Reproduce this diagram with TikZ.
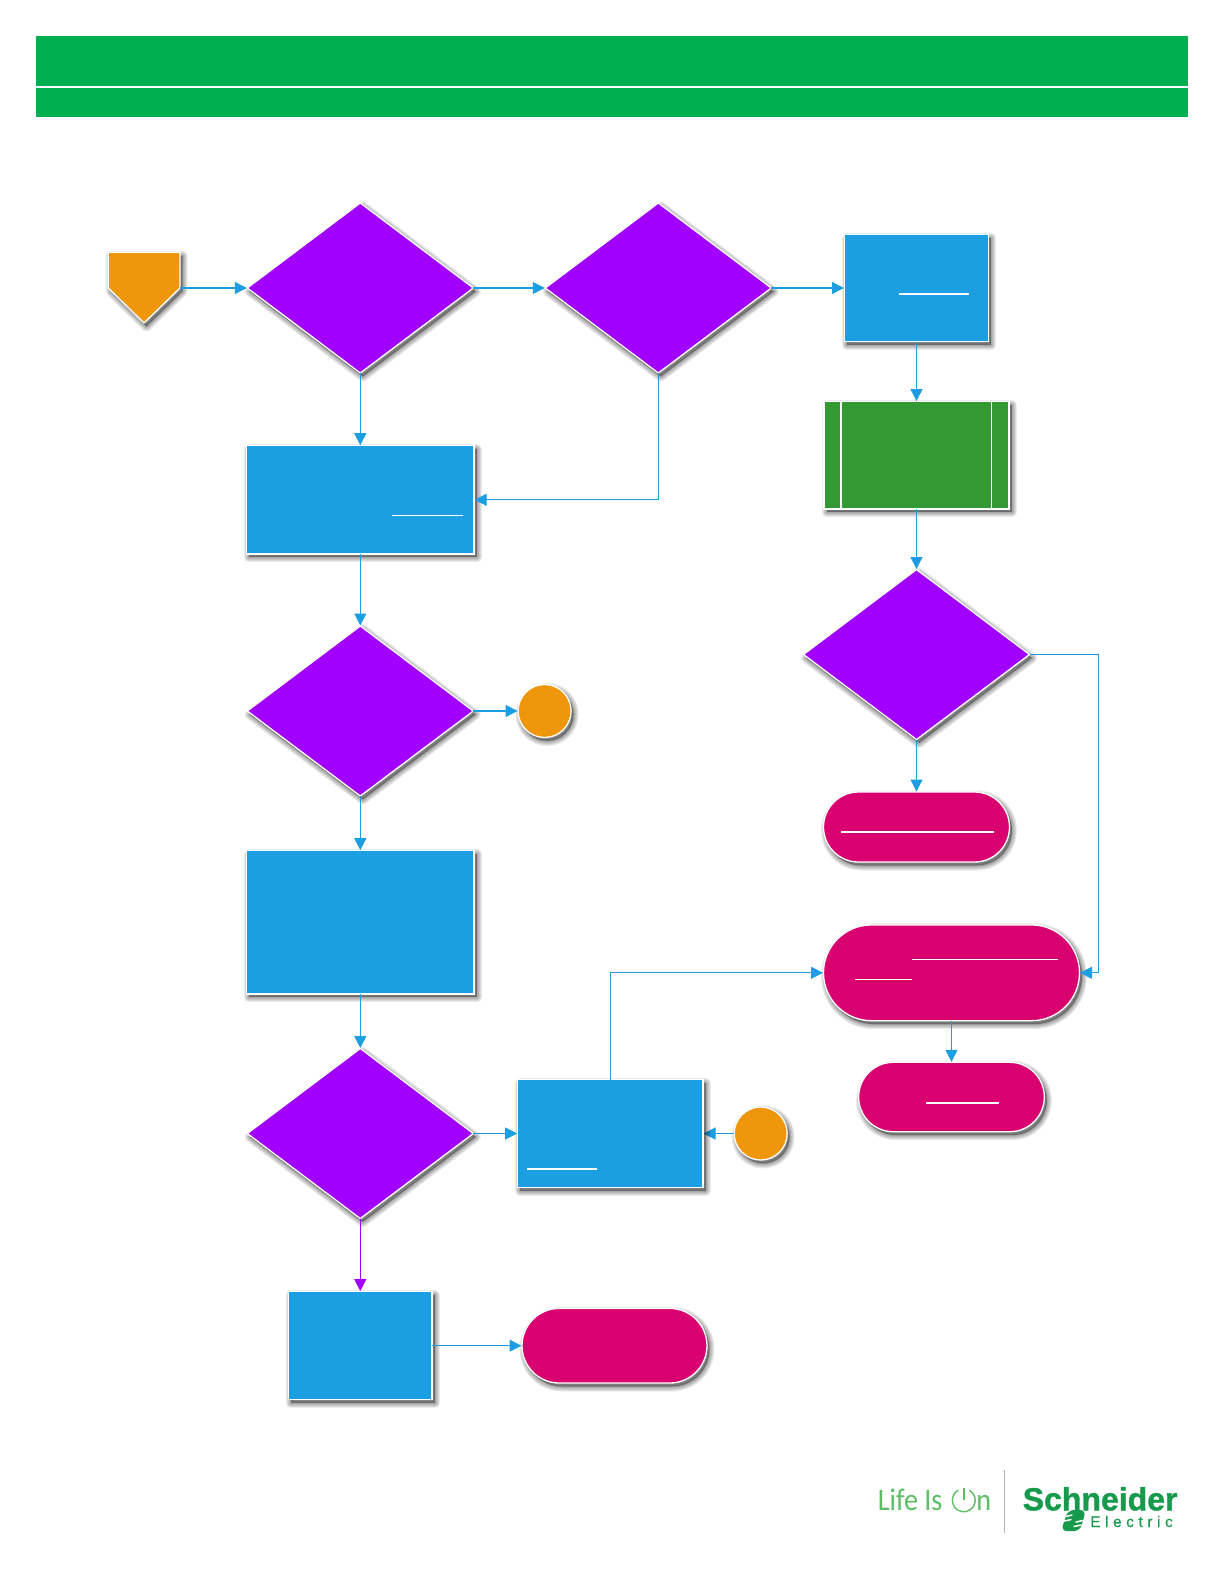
\documentclass[tikz,border=0pt]{standalone}
\usepackage{fontspec}
\usetikzlibrary{arrows.meta,shapes.geometric,shapes.misc,backgrounds}
\setmainfont{Liberation Sans}
\newfontfamily\lifefont[FakeStretch=0.9]{Carlito}
\newfontfamily\schfont[UprightFont=* Bold,FakeBold=1.2]{Liberation Sans}
\newfontfamily\elecfont[LetterSpace=30,FakeBold=0.5]{Liberation Sans}
\definecolor{hgreen}{HTML}{00B050}
\definecolor{bluec}{HTML}{1B9FE2}
\definecolor{purp}{HTML}{A100FF}
\definecolor{orng}{HTML}{F0960A}
\definecolor{pinkc}{HTML}{D90070}
\definecolor{gbox}{HTML}{339933}
\definecolor{seg}{HTML}{179A4C}
\definecolor{lifeg}{HTML}{5DBE65}
\def\px{0.75pt}
\tikzset{
  shlayer/.style={preaction={draw=black,fill=black,line width=#1*\px,line join=round,opacity=.08,
     transform canvas={xshift=2.5*\px,yshift=-3.5*\px}}},
  softsh/.style={shlayer=10,shlayer=8,shlayer=6,shlayer=4,shlayer=2},
  base/.style={draw=white,line width=1.3*\px,inner sep=0pt,outer sep=0pt,softsh},
  dia/.style={base,diamond,fill=purp,minimum width=226*\px,minimum height=170*\px},
  proc/.style={base,rectangle,fill=bluec},
  term/.style={base,rounded rectangle,fill=pinkc},
  conn/.style={draw=bluec,line width=1.2*\px,-{Triangle[length=12*\px,width=12*\px]},shorten >=0.5*\px},
  pconn/.style={conn,draw=purp},
  uline/.style={draw=white,line width=1.2*\px},
  circ/.style={base,circle,fill=orng,minimum size=53*\px},
  hbar/.style={fill=hgreen,draw=none}
}
\begin{document}
\begin{tikzpicture}[x=\px,y=-\px]
\useasboundingbox (0,0) rectangle (1225,1585);
\begin{scope}[on background layer]
  \fill[white] (0,0) rectangle (1225,1585);
\end{scope}
% header
\path[hbar] (36,36) rectangle (1188,86);
\path[hbar] (36,88) rectangle (1188,117);
% start pentagon
\path[draw=white,line width=1.3*\px,fill=orng,line join=round,softsh] (108.3,252.3) -- (180,252.3) -- (180,288) -- (144,323) -- (108.3,288) -- cycle;
\node[inner sep=0pt,outer sep=0pt,minimum width=71.7*\px,minimum height=71*\px] (start) at (144.15,288) {};
% decisions
\node[dia] (d1) at (360.3,288) {};
\node[dia] (d2) at (658.3,288) {};
\node[dia] (d3) at (916.5,654.5) {};
\node[dia] (d4) at (360.3,711) {};
\node[dia] (d5) at (360.3,1133.5) {};
% processes
\node[proc,minimum width=144*\px,minimum height=107.6*\px] (b1) at (916.5,288) {};
\node[proc,minimum width=227.6*\px,minimum height=108.2*\px] (b2) at (360.3,499.8) {};
\node[proc,minimum width=227.6*\px,minimum height=143.3*\px] (b3) at (360.3,922.3) {};
\node[proc,minimum width=185.3*\px,minimum height=107.6*\px] (b4) at (610.35,1133.5) {};
\node[proc,minimum width=143.6*\px,minimum height=108.2*\px] (b5) at (360.3,1345.7) {};
% predefined process
\node[base,rectangle,fill=gbox,minimum width=185*\px,minimum height=107.3*\px] (g1) at (916.5,455.2) {};
\draw[draw=white,line width=1.3*\px] (841,401.5) -- (841,508.9);
\draw[draw=white,line width=1.3*\px] (991.2,401.5) -- (991.2,508.9);
% terminators
\node[term,minimum width=186*\px,minimum height=70*\px] (t1) at (916.5,827) {};
\node[term,minimum width=256*\px,minimum height=95.7*\px] (t2) at (951.5,972.8) {};
\node[term,minimum width=185.7*\px,minimum height=69.4*\px] (t3) at (951.5,1097) {};
\node[term,minimum width=185*\px,minimum height=74.6*\px] (t4) at (614.5,1345.7) {};
% circles
\node[circ] (c1) at (544.6,711) {};
\node[circ] (c2) at (760.7,1133.5) {};
% connectors
\coordinate (corner) at (1098.3,654.5);
\draw[conn] (start.east) -- (d1.west);
\draw[conn] (d1.east) -- (d2.west);
\draw[conn] (d2.east) -- (b1.west);
\draw[conn] (b1.south) -- (g1.north);
\draw[conn] (g1.south) -- (d3.north);
\draw[conn] (d3.south) -- (t1.north);
\draw[conn] (d3.east) -- (corner) |- (t2.east);
\draw[conn] (t2.south) -- (t3.north);
\draw[conn] (d1.south) -- (b2.north);
\draw[conn] (d2.south) |- (b2.east);
\draw[conn] (b2.south) -- (d4.north);
\draw[conn] (d4.east) -- (c1.west);
\draw[conn] (d4.south) -- (b3.north);
\draw[conn] (b3.south) -- (d5.north);
\draw[conn] (d5.east) -- (b4.west);
\begin{scope}[on background layer]
  \draw[conn] (c2.west) -- (b4.east);
\end{scope}
\draw[conn] (b4.north) |- (t2.west);
\draw[pconn] (d5.south) -- (b5.north);
\draw[conn] (b5.east) -- (t4.west);
% underlines
\draw[uline] (899,294) -- (969,294);
\draw[uline] (392,515.5) -- (463,515.5);
\draw[uline] (841,832) -- (993.5,832);
\draw[uline] (912,959.3) -- (1058,959.3);
\draw[uline] (855,979.3) -- (912,979.3);
\draw[uline] (926,1103) -- (999,1103);
\draw[uline] (527,1169) -- (597,1169);
% logo
\node[anchor=base west,inner sep=0pt,text=lifeg,font=\lifefont\fontsize{23.5}{24}\selectfont] (life) at (877.5,1510.7) {Life Is};
\draw[lifeg,line width=1.4*\px,line cap=round] (963.8,1500.3) ++(-60:11.5) arc[start angle=-60,end angle=240,radius=11.5];
\draw[lifeg,line width=1.4*\px] (963.8,1488) -- (963.8,1500);
\node[anchor=base west,inner sep=0pt,text=lifeg,font=\lifefont\fontsize{23.5}{24}\selectfont] (lifen) at (976,1510.7) {n};
\draw[draw=black!30,line width=1.4*\px] (1004.7,1470) -- (1004.7,1532.7);
\node[anchor=base west,inner sep=0pt,text=seg,font=\schfont\fontsize{24}{24}\selectfont] (sch) at (1022.5,1510.3) {Schneider};
\node[anchor=base west,inner sep=0pt,text=seg,font=\elecfont\fontsize{11.5}{12}\selectfont] (elec) at (1090,1527) {Electric};
\fill[seg,rounded corners=6*\px] (1068,1510) -- (1086,1510) -- (1080,1531) -- (1061,1531) -- cycle;
\draw[white,line width=1.5*\px,line cap=round] (1066,1516.5) -- (1072,1515);
\draw[white,line width=1.5*\px,line cap=round] (1064.5,1521) -- (1071,1519.5);
\draw[white,line width=1.5*\px,line cap=round] (1076,1522) -- (1083,1520.5);
\draw[white,line width=1.5*\px,line cap=round] (1074,1526.5) -- (1081,1525);
\end{tikzpicture}
\end{document}
